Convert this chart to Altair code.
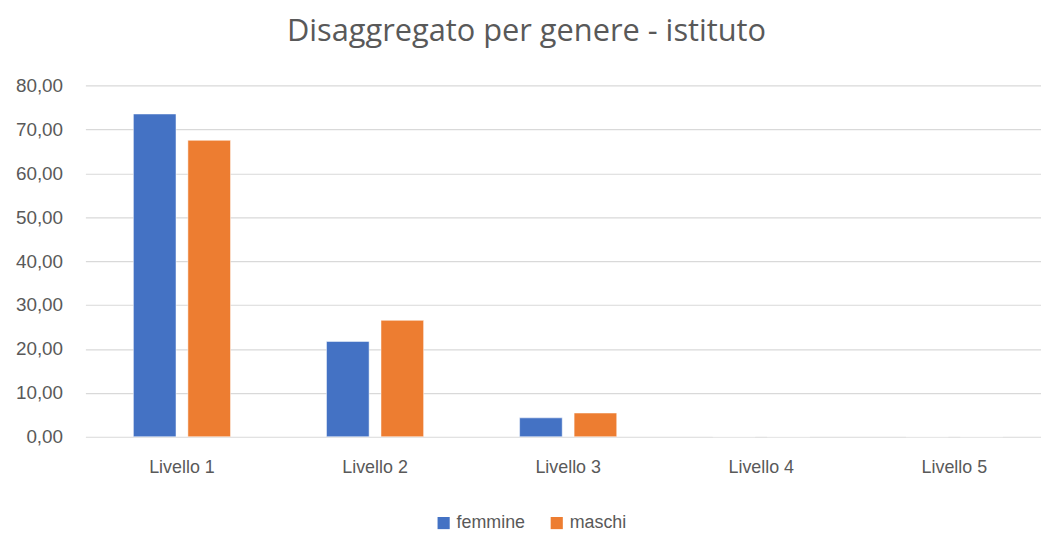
import altair as alt
import pandas as pd

categories = ["Livello 1", "Livello 2", "Livello 3", "Livello 4", "Livello 5"]
femmine = [73.5, 21.7, 4.3, 0.0, 0.0]
maschi = [67.5, 26.5, 5.4, 0.0, 0.0]
series = ["femmine", "maschi"]
colors = ["#4472C4", "#ED7D31"]

rows = []
for c, f, m in zip(categories, femmine, maschi):
    rows.append({"livello": c, "genere": "femmine", "valore": f})
    rows.append({"livello": c, "genere": "maschi", "valore": m})
df = pd.DataFrame(rows)

font = "Liberation Sans, Arial, sans-serif"
grey = "#595959"

chart = alt.Chart(df).mark_bar(stroke="white", strokeWidth=0.5).encode(
    x=alt.X("livello:N", sort=categories, title=None,
            scale=alt.Scale(paddingInner=0.497, paddingOuter=0.2485, range=[0, 973]),
            axis=alt.Axis(labelAngle=0, labelPadding=22, labelFontSize=18,
                          labelColor=grey, labelFont=font,
                          domain=False, ticks=False)),
    xOffset=alt.XOffset("genere:N", sort=series,
                        scale=alt.Scale(paddingInner=0.218, paddingOuter=0)),
    y=alt.Y("valore:Q", title=None,
            scale=alt.Scale(domain=[0, 80]),
            axis=alt.Axis(values=[0, 10, 20, 30, 40, 50, 60, 70, 80],
                          labelExpr="replace(format(datum.value, '.2f'), '.', ',')",
                          labelPadding=23, labelFontSize=19, labelColor=grey,
                          labelFont=font, domain=False, ticks=False,
                          gridColor="#d9d9d9", gridWidth=1.2)),
    color=alt.Color("genere:N", sort=series,
                    scale=alt.Scale(domain=series, range=colors),
                    legend=alt.Legend(title=None, orient="none", direction="horizontal",
                                      legendX=352, legendY=432, symbolType="square",
                                      symbolSize=150, symbolStrokeWidth=0,
                                      labelFontSize=18, labelColor=grey,
                                      labelFont=font, columnPadding=22,
                                      labelOffset=4)),
).properties(
    width=963,
    height=354,
    title=alt.Title("Disaggregato per genere - istituto", fontSize=31,
                    font="Open Sans, sans-serif", fontWeight="normal",
                    color=grey, anchor="middle", dx=-37, offset=29),
    autosize=alt.AutoSizeParams(type="none"),
    padding={"left": 78, "top": 76, "right": 0, "bottom": 100},
).configure_view(stroke=None)

chart.save("out.html", embed_options={"renderer": "svg", "actions": False})
